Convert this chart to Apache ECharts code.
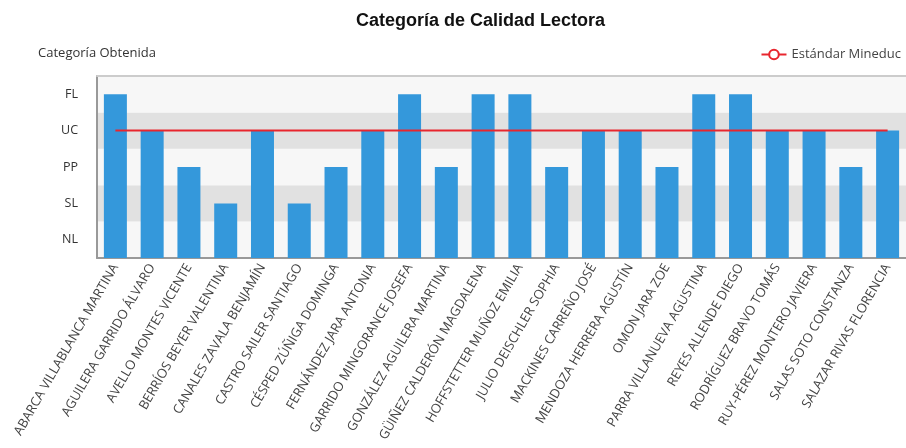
<!DOCTYPE html>
<html>
<head>
<meta charset="utf-8">
<script src="https://cdn.jsdelivr.net/npm/echarts@6/dist/echarts.min.js"></script>
<style>html,body{margin:0;padding:0;background:#fff}#c{width:906px;height:448px}</style>
</head>
<body>
<div id="c"></div>
<script>
const levels = ['NL', 'SL', 'PP', 'UC', 'FL'];
const students = [
  'ABARCA VILLABLANCA MARTINA', 'AGUILERA GARRIDO ÁLVARO', 'AVELLO MONTES VICENTE',
  'BERRÍOS BEYER VALENTINA', 'CANALES ZAVALA BENJAMÍN', 'CASTRO SAILER SANTIAGO',
  'CÉSPED ZÚÑIGA DOMINGA', 'FERNÁNDEZ JARA ANTONIA', 'GARRIDO MINGORANCE JOSEFA',
  'GONZÁLEZ AGUILERA MARTINA', 'GÜIÑEZ CALDERÓN MAGDALENA', 'HOFFSTETTER MUÑOZ EMILIA',
  'JULIO DEISCHLER SOPHIA', 'MACKINES CARREÑO JOSÉ', 'MENDOZA HERRERA AGUSTÍN',
  'OMON JARA ZOE', 'PARRA VILLANUEVA AGUSTINA', 'REYES ALLENDE DIEGO',
  'RODRÍGUEZ BRAVO TOMÁS', 'RUY-PÉREZ MONTERO JAVIERA', 'SALAS SOTO CONSTANZA',
  'SALAZAR RIVAS FLORENCIA'
];
const obtained = ['FL', 'UC', 'PP', 'SL', 'UC', 'SL', 'PP', 'UC', 'FL', 'PP', 'FL',
  'FL', 'PP', 'UC', 'UC', 'PP', 'FL', 'FL', 'UC', 'UC', 'PP', 'UC'];
const standardLevel = 'UC';

const levelValue = c => levels.indexOf(c) + 1;
const barData = obtained.map(levelValue);
const lineData = students.map(() => levelValue(standardLevel));

const chart = echarts.init(document.getElementById('c'), null, {renderer: 'canvas'});
chart.setOption({
  animation: false,
  title: {
    text: 'Categoría de Calidad Lectora',
    left: 351, top: 7,
    textStyle: {fontFamily: 'Liberation Sans', fontWeight: 'bold', fontSize: 18, color: '#111'}
  },
  legend: {
    right: 0, top: 43,
    itemWidth: 25, itemHeight: 12, itemGap: 10,
    textStyle: {fontFamily: 'Open Sans', fontSize: 13, color: '#444'},
    data: ['Estándar Mineduc']
  },
  grid: {left: 97, right: -2, top: 76, bottom: 190, containLabel: false},
  xAxis: [{
    type: 'category',
    data: students,
    axisLine: {lineStyle: {color: '#999', width: 2}},
    axisTick: {alignWithLabel: true, length: 5, lineStyle: {color: '#777'}},
    axisLabel: {rotate: 60, interval: 0, margin: 7, fontFamily: 'Open Sans', fontSize: 13, color: '#444'}
  }, {
    type: 'category',
    position: 'top',
    data: students,
    axisLine: {show: true, lineStyle: {color: '#ccc', width: 2}},
    axisTick: {show: false},
    axisLabel: {show: false}
  }],
  yAxis: [{
    type: 'category',
    data: levels,
    boundaryGap: true,
    name: 'Categoría Obtenida',
    nameLocation: 'end',
    nameGap: 16,
    nameTextStyle: {align: 'center', fontFamily: 'Open Sans', fontSize: 13, color: '#333'},
    axisLine: {lineStyle: {color: '#999', width: 2}},
    axisTick: {length: 5, lineStyle: {color: '#777'}},
    axisLabel: {margin: 19, fontFamily: 'Open Sans', fontSize: 12.5, color: '#333'},
    splitLine: {show: false},
    splitArea: {show: true, areaStyle: {color: ['#f7f7f7', '#e1e1e1']}}
  }, {
    type: 'value',
    min: 0.5, max: 5.5,
    show: false,
    splitLine: {show: false}
  }],
  series: [{
    name: 'Categoría',
    type: 'bar',
    yAxisIndex: 1,
    data: barData,
    barWidth: 23,
    itemStyle: {color: '#3498db'}
  }, {
    name: 'Estándar Mineduc',
    type: 'line',
    yAxisIndex: 1,
    data: lineData,
    symbol: 'circle',
    symbolSize: 10,
    showSymbol: false,
    lineStyle: {color: '#e8262e', width: 2},
    itemStyle: {color: '#fff', borderColor: '#e8262e', borderWidth: 2}
  }]
});
</script>
</body>
</html>
